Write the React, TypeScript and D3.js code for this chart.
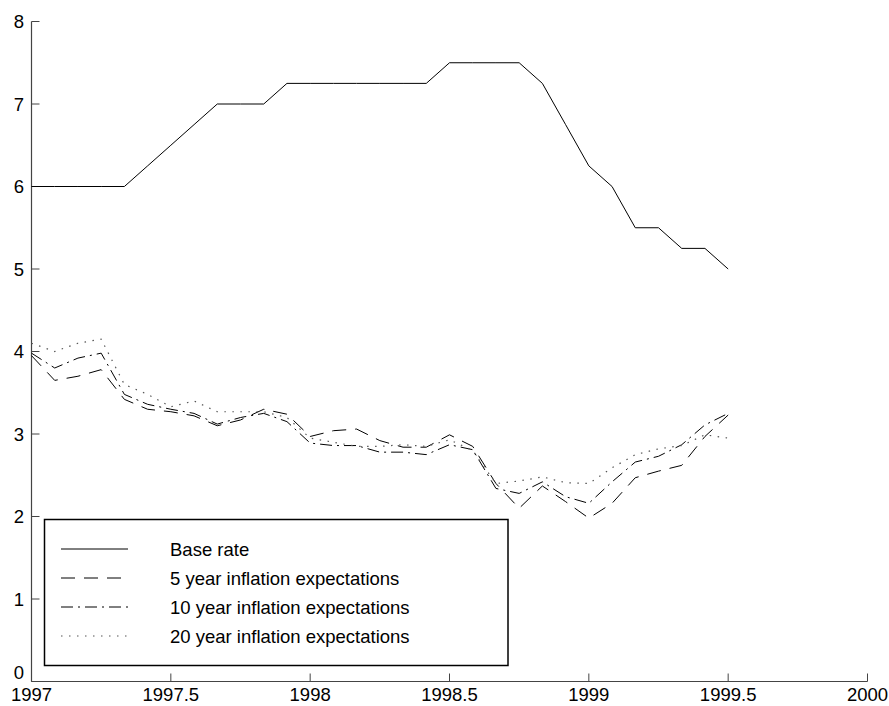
import * as d3 from 'd3'

// monthly observations, Jan 1997 .. Jul 1999
const months = d3.range(0, 31).map(k => 1997 + k / 12)

const baseRate = [6, 6, 6, 6, 6, 6.25, 6.5, 6.75, 7, 7, 7, 7.25, 7.25, 7.25, 7.25, 7.25,
  7.25, 7.25, 7.5, 7.5, 7.5, 7.5, 7.25, 6.75, 6.25, 6, 5.5, 5.5, 5.25, 5.25, 5]

const fiveYear = [3.95, 3.65, 3.7, 3.78, 3.42, 3.3, 3.27, 3.22, 3.1, 3.17, 3.3, 3.24, 2.97,
  3.04, 3.06, 2.92, 2.84, 2.84, 2.99, 2.85, 2.4, 2.1, 2.37, 2.18, 1.98, 2.16, 2.47, 2.55,
  2.62, 2.97, 3.23]

const tenYear = [3.98, 3.8, 3.92, 3.98, 3.48, 3.36, 3.3, 3.25, 3.12, 3.2, 3.25, 3.15, 2.89,
  2.86, 2.86, 2.78, 2.78, 2.75, 2.87, 2.81, 2.34, 2.28, 2.42, 2.24, 2.16, 2.42, 2.66, 2.73,
  2.87, 3.11, 3.25]

const twentyYear = [4.1, 4.0, 4.1, 4.15, 3.6, 3.48, 3.33, 3.4, 3.27, 3.27, 3.27, 3.2, 2.95,
  2.9, 2.85, 2.85, 2.87, 2.85, 2.93, 2.8, 2.4, 2.43, 2.48, 2.41, 2.4, 2.59, 2.75, 2.82,
  2.86, 2.99, 2.95]

const xTicks = [1997, 1997.5, 1998, 1998.5, 1999, 1999.5, 2000]
const yTicks = [0, 1, 2, 3, 4, 5, 6, 7, 8]

const seriesNames = ['Base rate', '5 year inflation expectations',
  '10 year inflation expectations', '20 year inflation expectations']

const W = 889
const H = 706
const FONT = 'Liberation Sans, Arial, Helvetica, sans-serif'

export default function App() {
  const x = d3.scaleLinear().domain([1997, 2000]).range([31.5, 867.5])
  const y = d3.scaleLinear().domain([0, 8]).range([681.5, 21.5])

  const line = d3.line<number>()
    .x((_, i) => x(months[i]))
    .y(d => y(d))

  const styles = [
    { dash: undefined, color: '#000', width: 1 },
    { dash: '14,9', color: '#000', width: 1 },
    { dash: '12,5,2,5', color: '#000', width: 1 },
    { dash: '1.5,6.5', color: '#555', width: 1.2 },
  ]
  const data = [baseRate, fiveYear, tenYear, twentyYear]

  const legend = { x0: 44.5, y0: 519.5, x1: 508, y1: 665.5 }
  const rowY = [549, 578, 607, 636]

  return (
    <svg width={W} height={H} style={{ position: 'absolute', left: 0, top: 0, background: '#fff' }}
      fontFamily={FONT}>
      <rect width={W} height={H} fill="#fff" />

      {/* axes */}
      <line x1={x(1997)} x2={x(2000)} y1={y(0)} y2={y(0)} stroke="#444" strokeWidth={1.2} />
      <line x1={x(1997)} x2={x(1997)} y1={y(0)} y2={y(8)} stroke="#444" strokeWidth={1.2} />

      {xTicks.map(t => (
        <g key={t}>
          <line x1={x(t)} x2={x(t)} y1={y(0)} y2={y(0) - 8} stroke="#444" strokeWidth={1} />
          <text x={x(t)} y={701} textAnchor="middle" fontSize={18.5} fill="#000">{t}</text>
        </g>
      ))}
      {yTicks.map(v => (
        <g key={v}>
          <line x1={x(1997)} x2={x(1997) + 8} y1={y(v)} y2={y(v)} stroke="#444" strokeWidth={1} />
          <text x={24} y={y(v) + (v === 0 ? -3 : 6.5)} textAnchor="end" fontSize={18.5}
            fill="#000">{v}</text>
        </g>
      ))}

      {/* series */}
      {data.map((d, i) => (
        <path key={i} d={line(d) ?? ''} fill="none" stroke={styles[i].color}
          strokeWidth={styles[i].width} strokeDasharray={styles[i].dash} />
      ))}

      {/* legend */}
      <rect x={legend.x0} y={legend.y0} width={legend.x1 - legend.x0} height={legend.y1 - legend.y0}
        fill="#fff" stroke="#000" strokeWidth={1.5} />
      {seriesNames.map((name, i) => (
        <g key={name}>
          <line x1={61} x2={128} y1={rowY[i]} y2={rowY[i]} stroke={styles[i].color}
            strokeWidth={styles[i].width} strokeDasharray={styles[i].dash} />
          <text x={170} y={rowY[i] + 7} fontSize={18.5} fill="#000">{name}</text>
        </g>
      ))}
    </svg>
  )
}
